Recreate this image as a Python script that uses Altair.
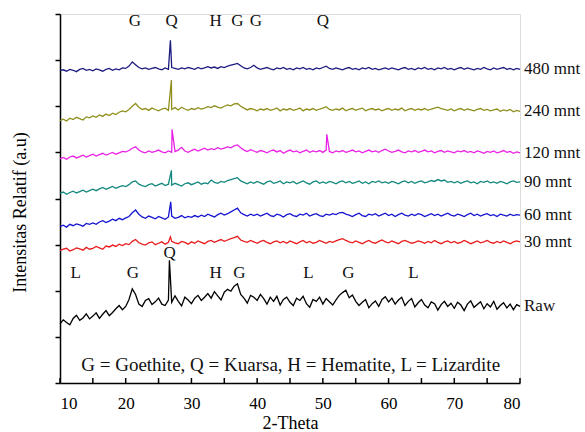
import altair as alt
import pandas as pd

FONT = "'Liberation Serif', 'Times New Roman', Times, serif"

# sampling grid of the diffractograms (degrees 2-theta)
TWO_THETA = [10 + 0.5 * i for i in range(141)]

SERIES = ["Raw", "30 mnt", "60 mnt", "90 mnt", "120 mnt", "240 mnt", "480 mnt"]
COLORS = ["#000000", "#e81c1c", "#1515d0", "#13887f", "#ea22e6", "#8f8f1e", "#1c1c80"]

RAW = [128,137,131,126,140,147,136,141,150,139,
       145,152,140,149,157,146,153,161,168,159,
       166,181,204,192,171,166,179,183,170,176,
       184,171,168,180,175,189,177,167,186,180,
       172,184,190,179,186,194,184,198,189,180,
       197,203,199,210,215,192,184,173,190,186,
       179,192,183,171,186,177,188,169,181,186,
       175,168,184,179,188,172,164,181,177,186,
       171,183,176,169,180,190,196,201,185,191,
       177,168,175,181,163,172,178,166,181,187,
       176,184,171,180,186,168,177,183,165,174,
       181,169,163,176,172,158,170,177,166,173,
       162,175,169,157,171,178,164,170,176,161,
       172,165,177,160,168,174,163,171,159,170,
       166]
M30 = [287,290,292,286,289,293,291,288,294,290,
       292,296,293,290,297,295,299,296,301,298,
       302,300,307,311,304,301,299,304,306,300,
       303,306,301,305,307,304,302,307,305,301,
       306,303,308,305,302,307,309,305,308,311,
       307,310,313,315,318,310,307,305,309,306,
       303,307,309,305,302,306,308,304,307,303,
       308,305,302,306,309,304,307,303,305,309,
       306,303,307,305,308,311,313,309,306,304,
       308,305,302,306,309,305,303,307,310,306,
       304,308,305,302,307,309,306,303,305,308,
       306,303,307,304,309,305,302,306,308,304,
       307,303,305,309,306,302,305,308,304,306,
       309,305,303,307,304,308,305,302,306,308,
       306]
M60 = [339,342,338,344,341,345,343,340,346,344,
       347,344,349,352,348,351,355,352,357,354,
       358,361,369,375,366,360,357,362,359,356,
       361,358,355,360,362,357,359,363,358,361,
       359,363,360,364,361,366,363,360,365,368,
       364,367,371,375,379,369,365,362,366,363,
       366,362,365,368,363,361,366,364,360,365,
       367,363,361,366,364,368,362,365,367,363,
       361,366,364,367,365,369,370,366,364,361,
       365,368,363,361,366,364,367,362,365,368,
       363,366,361,365,368,364,362,366,363,367,
       365,361,364,367,363,366,362,365,368,364,
       362,366,364,361,365,368,363,366,362,365,
       367,363,365,361,366,364,362,366,363,365,
       364]
M90 = [411,414,409,413,416,412,415,418,414,417,
       420,417,421,424,420,423,426,422,425,428,
       426,430,436,438,431,428,426,430,432,427,
       430,433,428,431,429,433,430,427,432,434,
       430,433,436,431,434,432,440,435,433,437,
       435,439,441,443,445,438,435,432,436,433,
       437,434,431,436,438,433,435,438,432,436,
       434,437,432,435,438,434,431,436,438,433,
       436,433,437,435,432,436,438,434,437,433,
       435,438,433,436,432,437,435,438,434,436,
       433,437,435,432,436,438,434,437,433,436,
       438,434,436,439,437,441,438,440,435,437,
       434,437,433,436,438,434,436,432,437,435,
       438,434,436,433,437,435,432,436,438,435,
       436]
M120 = [486,489,485,490,492,488,491,494,490,493,
        496,492,495,498,494,497,500,496,499,502,
        501,504,509,512,505,501,499,503,500,502,
        505,501,499,503,500,502,505,511,503,500,
        504,507,503,506,509,505,508,506,510,507,
        509,512,510,514,516,510,505,502,506,503,
        500,504,502,499,503,505,501,504,498,502,
        505,501,503,499,502,505,500,503,501,504,
        500,505,502,499,503,501,504,500,502,505,
        501,503,499,502,505,501,503,500,504,507,
        503,500,502,505,501,499,503,501,504,500,
        502,505,501,503,499,502,504,500,503,501,
        499,503,501,504,500,502,499,503,501,498,
        502,500,503,499,501,504,500,502,498,501,
        499]
M240 = [569,572,568,574,571,576,573,570,577,575,
        579,576,581,578,583,580,585,582,587,590,
        588,593,600,606,598,593,595,591,596,593,
        590,594,596,591,593,597,592,598,594,591,
        595,593,597,594,596,599,597,601,598,596,
        600,603,601,605,606,600,596,592,595,593,
        590,594,592,595,591,593,596,590,594,592,
        595,591,593,596,590,594,592,595,591,594,
        596,599,593,591,594,592,596,590,593,595,
        591,594,596,590,593,595,592,594,590,593,
        595,591,594,592,596,590,593,595,591,594,
        592,595,591,594,596,598,595,593,591,594,
        590,593,595,591,594,592,590,593,595,591,
        593,590,592,594,589,592,590,593,588,591,
        589]
M480 = [677,679,676,680,678,675,680,682,678,680,
        677,681,679,676,680,682,678,681,679,683,
        682,687,696,690,684,681,683,680,682,684,
        681,679,683,680,684,682,680,683,681,684,
        682,680,684,681,683,686,683,685,682,686,
        684,687,689,691,693,688,683,681,684,689,
        683,680,682,684,681,679,683,681,684,680,
        682,679,683,681,684,680,682,679,683,681,
        684,687,682,680,683,681,679,682,684,680,
        682,679,683,681,684,680,682,679,681,683,
        680,683,681,679,682,684,680,682,679,683,
        681,684,680,682,679,683,681,684,680,682,
        679,682,684,680,683,681,679,682,680,684,
        681,679,683,680,682,684,680,682,679,682,
        680]

# sharp reflections (quartz etc.) that fall between grid points
PEAK_X = {"Raw": [26.65], "30 mnt": [26.8], "60 mnt": [26.85], "90 mnt": [26.95],
          "120 mnt": [27.05, 50.6], "240 mnt": [26.95], "480 mnt": [26.8]}
PEAK_Y = {"Raw": [266], "30 mnt": [317], "60 mnt": [393], "90 mnt": [461],
          "120 mnt": [550, 539], "240 mnt": [657], "480 mnt": [743]}

TOP_PHASES = ["G", "Q", "H", "G", "G", "Q"]
TOP_PHASE_X = [21.4, 27.0, 33.7, 37.0, 39.8, 50.0]
TOP_PHASE_Y = [785, 785, 785, 785, 785, 785]

RAW_PHASES = ["L", "G", "Q", "H", "G", "L", "G", "L"]
RAW_PHASE_X = [12.4, 21.1, 26.7, 33.7, 37.3, 47.8, 53.9, 63.8]
RAW_PHASE_Y = [238, 238, 281, 238, 238, 238, 238, 238]

KEY_TEXT = ["G = Goethite, Q = Kuarsa, H = Hematite, L = Lizardite"]
KEY_X = [45.1]
KEY_Y = [40]

X_TICKS = [10, 20, 30, 40, 50, 60, 70, 80]
X_MINOR = [10, 15, 20, 25, 30, 35, 40, 45, 50, 55, 60, 65, 70, 75, 80]
Y_TICKS = [0, 100, 200, 300, 400, 500, 600, 700, 800]

values = {"Raw": RAW, "30 mnt": M30, "60 mnt": M60, "90 mnt": M90,
          "120 mnt": M120, "240 mnt": M240, "480 mnt": M480}

rows = []
for s in SERIES:
    for x, y in zip(TWO_THETA, values[s]):
        rows.append({"theta": x, "I": y, "series": s})
    for x, y in zip(PEAK_X[s], PEAK_Y[s]):
        rows.append({"theta": x, "I": y, "series": s})
df = pd.DataFrame(rows).sort_values(["series", "theta"])

end_df = pd.DataFrame({"series": SERIES, "theta": [TWO_THETA[-1]] * len(SERIES),
                       "I": [values[s][-1] for s in SERIES]})

xscale = alt.Scale(domain=[10, 80], nice=False, zero=False)
yscale = alt.Scale(domain=[0, 800], nice=False, zero=False)
cscale = alt.Scale(domain=SERIES, range=COLORS)

x_axis = alt.Axis(values=X_TICKS, ticks=False, tickSize=0, labelPadding=25,
                  labelBaseline="alphabetic", labelFont=FONT, labelFontSize=17,
                  labelColor="black", grid=False, domainColor="black", domainWidth=1.5,
                  title="2-Theta", titleFont=FONT, titleFontSize=18, titleFontWeight="normal",
                  titleColor="black", titleY=45, titleBaseline="alphabetic")
y_axis = alt.Axis(values=Y_TICKS, labels=False, ticks=True, tickSize=5, tickColor="black",
                  tickWidth=1.5, grid=False, domainColor="black", domainWidth=1.5,
                  title="Intensitas Relatif (a.u)", titleFont=FONT, titleFontSize=18,
                  titleFontWeight="normal", titleColor="black", titleX=-35, titleY=198,
                  titleBaseline="alphabetic")

lines = alt.Chart(df).mark_line(strokeWidth=1.3, clip=False).encode(
    x=alt.X("theta:Q", scale=xscale, axis=x_axis),
    y=alt.Y("I:Q", scale=yscale, axis=y_axis),
    color=alt.Color("series:N", scale=cscale, legend=None),
    detail="series:N",
)

end_labels = alt.Chart(end_df).mark_text(align="left", baseline="middle", dx=4,
                                         font=FONT, fontSize=17, color="#111111").encode(
    x=alt.X("theta:Q", scale=xscale), y=alt.Y("I:Q", scale=yscale), text="series:N")

top_df = pd.DataFrame({"t": TOP_PHASES, "x": TOP_PHASE_X, "y": TOP_PHASE_Y})
raw_df = pd.DataFrame({"t": RAW_PHASES, "x": RAW_PHASE_X, "y": RAW_PHASE_Y})
key_df = pd.DataFrame({"t": KEY_TEXT, "x": KEY_X, "y": KEY_Y})

phase_top = alt.Chart(top_df).mark_text(font=FONT, fontSize=17, color="#111111",
                                        baseline="middle").encode(
    x=alt.X("x:Q", scale=xscale), y=alt.Y("y:Q", scale=yscale), text="t:N")
phase_raw = alt.Chart(raw_df).mark_text(font=FONT, fontSize=17, color="#111111",
                                        baseline="middle").encode(
    x=alt.X("x:Q", scale=xscale), y=alt.Y("y:Q", scale=yscale), text="t:N")
key = alt.Chart(key_df).mark_text(font=FONT, fontSize=19, color="#111111",
                                  baseline="middle").encode(
    x=alt.X("x:Q", scale=xscale), y=alt.Y("y:Q", scale=yscale), text="t:N")

minor_df = pd.DataFrame({"x": X_MINOR})
xticks = alt.Chart(minor_df).mark_rule(color="black", strokeWidth=1.5).encode(
    x=alt.X("x:Q", scale=xscale), y=alt.value(369), y2=alt.value(364))

chart = alt.layer(lines, end_labels, phase_top, phase_raw, key, xticks).properties(
    width=460, height=369,
    autosize=alt.AutoSizeParams(type="none"),
    padding={"left": 60, "top": 14, "right": 65, "bottom": 49},
).configure_view(stroke=None).configure(background="white")

chart.save("out.html", embed_options={"renderer": "svg", "actions": False})
